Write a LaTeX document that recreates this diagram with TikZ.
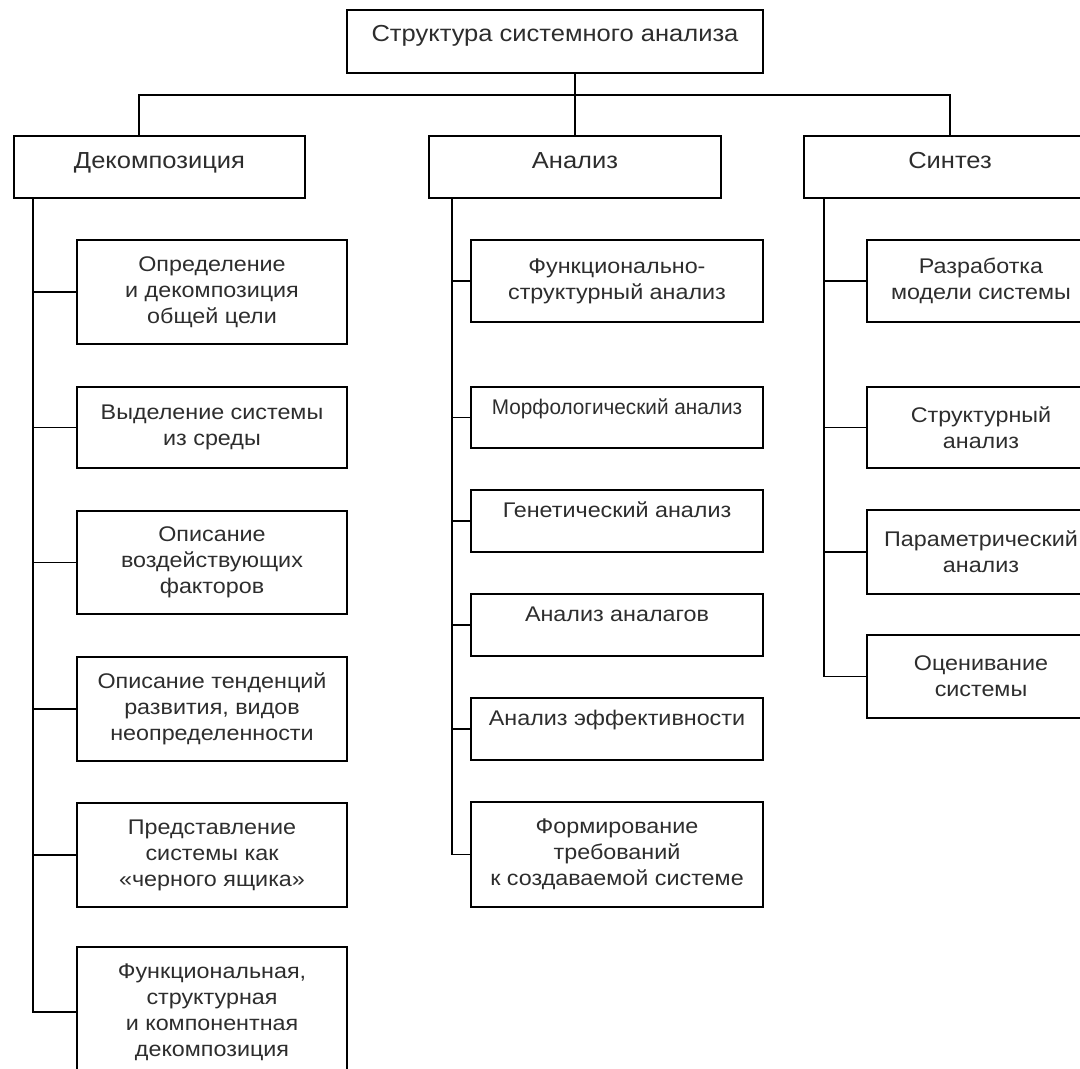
\documentclass[tikz,border=0pt]{standalone}
\usepackage{fontspec}
\setmainfont[FakeStretch=1.1]{Liberation Sans}
\usepackage{tikz}

\definecolor{inkgray}{RGB}{45,45,45}
\tikzset{
  box/.style={draw=black, line width=1.3pt, rectangle, align=center, inner sep=0pt,
    text=inkgray, font=\fontsize{15.9}{19.5}\selectfont},
  headbox/.style={box, font=\fontsize{17.4}{21}\selectfont},
  lift/.style={text height=12pt, text depth=#1},
  link/.style={draw=black, line width=1.3pt},
}

\begin{document}
\begin{tikzpicture}[x=0.75pt,y=0.75pt,yscale=-1,xscale=1]
\useasboundingbox (0,0) rectangle (1080,1068);
\clip (0,0) rectangle (1080,1068);

% Text Node
\node [headbox, minimum width=312pt, minimum height=47.25pt, lift=13pt] (root) at (555,41.7) {Структура системного анализа};
% Text Node
\node [headbox, minimum width=218pt, minimum height=46.5pt, lift=10pt] (dec) at (159.5,167) {Декомпозиция};
% Text Node
\node [headbox, minimum width=219pt, minimum height=46.5pt, lift=10pt] (ana) at (575,167) {Анализ};
% Text Node
\node [headbox, minimum width=219pt, minimum height=46.5pt, lift=10pt] (syn) at (950,167) {Синтез};

%Shape: Rectangle -- decomposition
\node [box, minimum width=202.5pt, minimum height=78pt] (d1) at (212,292) {Определение\\и декомпозиция\\общей цели};
\node [box, minimum width=202.5pt, minimum height=60.75pt] (d2) at (212,427.5) {Выделение системы\\из среды};
\node [box, minimum width=202.5pt, minimum height=77.25pt] (d3) at (212,562.5) {Описание\\воздействующих\\факторов};
\node [box, minimum width=202.5pt, minimum height=78pt] (d4) at (212,709) {Описание тенденций\\развития, видов\\неопределенности};
\node [box, minimum width=202.5pt, minimum height=78pt] (d5) at (212,855) {Представление\\системы как\\«черного ящика»};
\node [box, minimum width=202.5pt, minimum height=97.5pt] (d6) at (212,1012) {Функциональная,\\структурная\\и компонентная\\декомпозиция};

%Shape: Rectangle -- analysis
\node [box, minimum width=219pt, minimum height=61.5pt] (a1) at (617,281) {Функционально-\\структурный анализ};
\node [box, minimum width=219pt, minimum height=45.75pt, lift=17pt] (a2) at (617,417.5) {\scalebox{0.89}[1]{Морфологический анализ}};
\node [box, minimum width=219pt, minimum height=46.5pt, lift=17pt] (a3) at (617,521) {Генетический анализ};
\node [box, minimum width=219pt, minimum height=46.5pt, lift=17pt] (a4) at (617,625) {Анализ аналагов};
\node [box, minimum width=219pt, minimum height=46.5pt, lift=17pt] (a5) at (617,729) {Анализ эффективности};
\node [box, minimum width=219pt, minimum height=78.75pt] (a6) at (617,854.5) {Формирование\\требований\\к создаваемой системе};

%Shape: Rectangle -- synthesis
\node [box, minimum width=171pt, minimum height=61.5pt] (s1) at (981,281) {Разработка\\модели системы};
\node [box, minimum width=171pt, minimum height=60.75pt] (s2) at (981,427.5) {Структурный\\анализ};
\node [box, minimum width=171pt, minimum height=63pt] (s3) at (981,552) {Параметрический\\анализ};
\node [box, minimum width=171pt, minimum height=62.25pt] (s4) at (981,676.5) {Оценивание\\системы};

%Straight Lines
\coordinate (bar) at (139,95);
\coordinate (dtrunk) at (33,198);
\coordinate (atrunk) at (452,198);
\coordinate (strunk) at (824,198);

\draw [link] (bar |- dec.north) -- (bar) -- (bar -| syn.north) -- (syn.north);
\draw [link] (root.south -| ana.north) -- (ana.north);

\foreach \c in {d1,d2,d3,d4,d5,d6}
  \draw [link] (dtrunk) |- (\c.west);
\foreach \c in {a1,a2,a3,a4,a5,a6}
  \draw [link] (atrunk) |- (\c.west);
\foreach \c in {s1,s2,s3,s4}
  \draw [link] (strunk) |- (\c.west);
\end{tikzpicture}
\end{document}
